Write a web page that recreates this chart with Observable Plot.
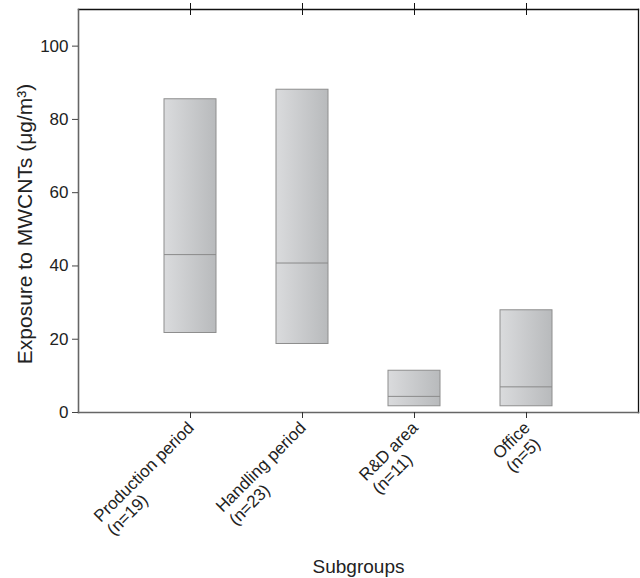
<!DOCTYPE html>
<html>
<head>
<meta charset="utf-8">
<script src="https://cdn.jsdelivr.net/npm/d3@7"></script>
<script src="https://cdn.jsdelivr.net/npm/@observablehq/plot@0.6"></script>
<style>
  html, body { margin: 0; padding: 0; background: #fff; }
  svg { font-family: "Liberation Sans", Arial, sans-serif; }
</style>
</head>
<body>
<div id="chart"></div>
<script>
const categories = ["Production period\n(n=19)", "Handling period\n(n=23)", "R&D area\n(n=11)", "Office\n(n=5)"];
const lowValues = [21.7, 18.7, 1.7, 1.7];
const medianValues = [43.1, 40.8, 4.4, 7.0];
const highValues = [85.5, 88.1, 11.4, 27.9];
const yTicks = [0, 20, 40, 60, 80, 100];

const data = categories.map((c, i) => ({cat: c, low: lowValues[i], median: medianValues[i], high: highValues[i]}));

const defs = () => {
  const d = d3.create("svg:defs");
  const g = d.append("linearGradient").attr("id", "boxGrad").attr("x1", "0").attr("x2", "1").attr("y1", "0").attr("y2", "0");
  g.append("stop").attr("offset", "0%").attr("stop-color", "#dadbdd");
  g.append("stop").attr("offset", "100%").attr("stop-color", "#b8babc");
  return d.node();
};

const chart = Plot.plot({
  width: 640,
  height: 578,
  marginLeft: 78,
  marginRight: 2,
  marginTop: 9,
  marginBottom: 166,
  style: {fontFamily: "'Liberation Sans', Arial, sans-serif", fontSize: "17px", color: "#222"},
  x: {type: "band", domain: categories, paddingInner: 0.536, paddingOuter: 0.768},
  y: {domain: [0, 110]},
  marks: [
    defs,
    Plot.barY(data, {x: "cat", y1: "low", y2: "high", fill: "url(#boxGrad)", stroke: "#8e8e8e", strokeWidth: 1}),
    Plot.tickY(data, {x: "cat", y: "median", stroke: "#8a8a8a", strokeWidth: 1}),
    Plot.frame({anchor: "top", stroke: "#111", strokeWidth: 1.3}),
    Plot.frame({anchor: "right", stroke: "#111", strokeWidth: 1.3}),
    Plot.frame({anchor: "left", stroke: "#666", strokeWidth: 1.6}),
    Plot.frame({anchor: "bottom", stroke: "#666", strokeWidth: 1.6}),
    Plot.axisY({ticks: yTicks, tickSize: 6, tickPadding: 4, label: null, stroke: "#444", fill: "#222", fontSize: 17}),
    Plot.axisX({anchor: "bottom", tickSize: 6, tickFormat: () => "", label: null, stroke: "#333"}),
    Plot.axisX({anchor: "top", tickSize: 12, dy: 5, tickFormat: () => "", label: null, stroke: "#111"}),
    Plot.text(categories, {x: d => d, frameAnchor: "bottom", dx: -5, dy: 7, rotate: -45, textAnchor: "start", lineAnchor: "top", fontSize: 17, fill: "#222", lineHeight: 1.1}),
    Plot.text(["Exposure to MWCNTs (μg/m³)"], {frameAnchor: "left", dx: -53, dy: 13, rotate: -90, textAnchor: "middle", lineAnchor: "middle", fontSize: 21, fill: "#222"}),
    Plot.text(["Subgroups"], {frameAnchor: "bottom", dy: 154, textAnchor: "middle", lineAnchor: "middle", fontSize: 19, fill: "#222"})
  ]
});

document.getElementById("chart").appendChild(chart);

// Left-align the two lines of each rotated category label, with the longest line ending at the tick
d3.select(chart).selectAll("text").each(function() {
  const tspans = d3.select(this).selectAll("tspan");
  if (tspans.size() !== 2) return;
  let w = 0;
  tspans.each(function() { w = Math.max(w, this.getComputedTextLength()); });
  tspans.attr("x", -w).attr("text-anchor", "start");
});
</script>
</body>
</html>
